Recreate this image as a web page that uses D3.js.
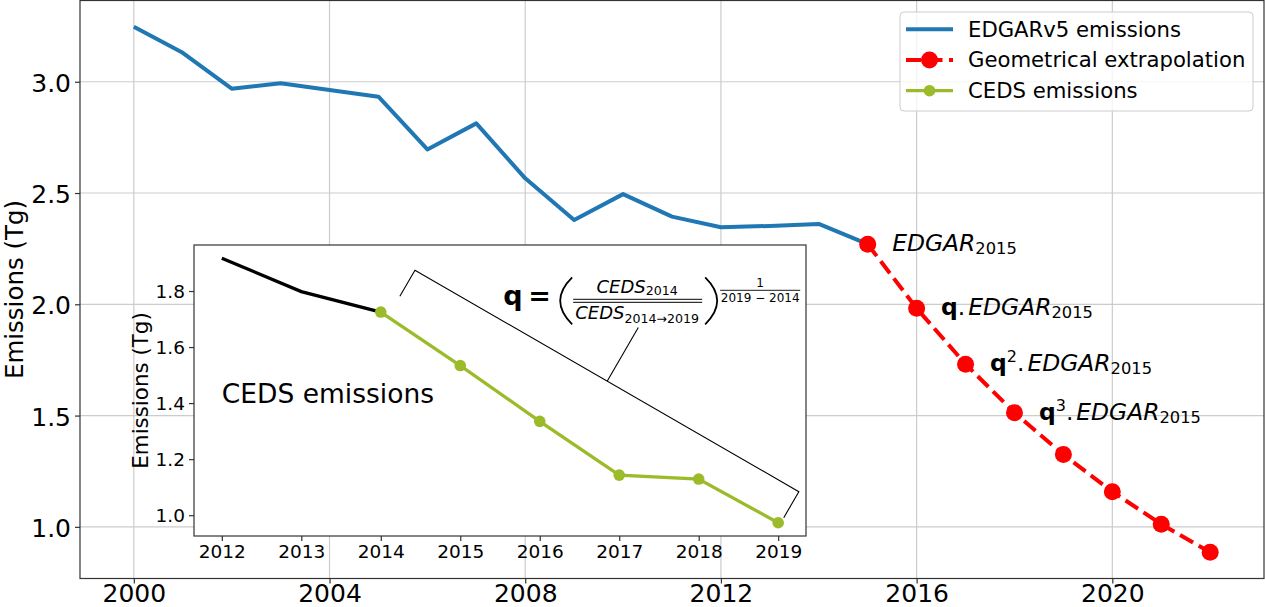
<!DOCTYPE html>
<meta charset="utf-8">
<script src="https://d3js.org/d3.v7.min.js"></script>
<style>
body {
    margin: 0;
    background: #fff;
}
text {
    font-family: 'DejaVu Sans', sans-serif;
    fill: #000;
}
</style>
<body>
<div id="chart"></div>
<script>
// main chart data: EDGARv5 and geometrical extrapolation (Tg)
var edgarYears = [2000, 2001, 2002, 2003, 2004, 2005, 2006, 2007, 2008, 2009, 2010, 2011, 2012, 2013, 2014, 2015];
var edgarValues = [3.247, 3.130, 2.969, 2.993, 2.963, 2.933, 2.696, 2.813, 2.566, 2.379, 2.495, 2.394, 2.346, 2.352, 2.361, 2.270];
var extrapYears = [2015, 2016, 2017, 2018, 2019, 2020, 2021, 2022];
var extrapValues = [2.270, 1.982, 1.731, 1.513, 1.325, 1.158, 1.012, 0.886];

// inset data: CEDS emissions (Tg), black up to 2014, green after
var cedsYears = [2012, 2013, 2014, 2015, 2016, 2017, 2018, 2019];
var cedsValues = [1.917, 1.798, 1.725, 1.534, 1.335, 1.143, 1.129, 0.973];
var cedsSplitYear = 2014;

// ticks
var mainXTicks = [2000, 2004, 2008, 2012, 2016, 2020];
var mainYTicks = [1.0, 1.5, 2.0, 2.5, 3.0];
var insetXTicks = [2012, 2013, 2014, 2015, 2016, 2017, 2018, 2019];
var insetYTicks = [1.0, 1.2, 1.4, 1.6, 1.8];

// labels next to the extrapolated points
var labelYears = [2015, 2016, 2017, 2018];
var labelPowers = [0, 1, 2, 3];

var legendNames = ['EDGARv5 emissions', 'Geometrical extrapolation', 'CEDS emissions'];

// bracket annotation in the inset (inset data units)
var bracketX = [2014.24, 2014.43, 2019.26, 2019.07];
var bracketY = [1.781, 1.874, 1.084, 0.991];
var leaderX = [2016.85, 2017.24];
var leaderY = [1.479, 1.670];
var formulaAt = [2015.54, 1.749];

var blue = '#1f77b4', red = '#ff0000', green = '#9bbb2a';

var W = 1265, H = 607;
var svg = d3.select('#chart').append('svg')
    .attr('width', W)
    .attr('height', H);

// matplotlib style 5% margins
function padded(lo, hi) {
    var p = (hi - lo) * 0.05;
    return [lo - p, hi + p];
}

// ---------- main axes ----------
var main = {left: 80, right: 1264, top: 0.5, bottom: 578.5};
var allMain = edgarValues.concat(extrapValues);

var x = d3.scaleLinear()
    .domain(padded(d3.min(edgarYears.concat(extrapYears)), d3.max(edgarYears.concat(extrapYears))))
    .range([main.left, main.right]);
var y = d3.scaleLinear()
    .domain(padded(d3.min(allMain), d3.max(allMain)))
    .range([main.bottom, main.top]);

// grid
svg.append('g').selectAll('line')
    .data(mainXTicks).enter().append('line')
    .attr('x1', function(d) { return x(d); })
    .attr('x2', function(d) { return x(d); })
    .attr('y1', main.top).attr('y2', main.bottom)
    .attr('stroke', '#cccccc').attr('stroke-width', 1.2);
svg.append('g').selectAll('line')
    .data(mainYTicks).enter().append('line')
    .attr('y1', function(d) { return y(d); })
    .attr('y2', function(d) { return y(d); })
    .attr('x1', main.left).attr('x2', main.right)
    .attr('stroke', '#cccccc').attr('stroke-width', 1.2);

// axes
var xAxis = d3.axisBottom(x).tickValues(mainXTicks).tickFormat(d3.format('d')).tickSize(5).tickPadding(1);
var gx = svg.append('g')
    .attr('transform', 'translate(0,' + main.bottom + ')')
    .call(xAxis);
var yAxis = d3.axisLeft(y).tickValues(mainYTicks).tickFormat(d3.format('.1f')).tickSize(5).tickPadding(4);
var gy = svg.append('g')
    .attr('transform', 'translate(' + main.left + ',0)')
    .call(yAxis);
[gx, gy].forEach(function(g) {
    g.select('.domain').remove();
    g.selectAll('line').attr('stroke', '#333').attr('stroke-width', 1.2);
    g.selectAll('text').style('font-size', '25px').style('font-family', "'DejaVu Sans', sans-serif");
});
gy.selectAll('text').attr('dy', '0.38em');

// frame
svg.append('rect')
    .attr('x', main.left).attr('y', main.top)
    .attr('width', main.right - main.left)
    .attr('height', main.bottom - main.top)
    .attr('fill', 'none').attr('stroke', '#333').attr('stroke-width', 1.2);

svg.append('text')
    .text('Emissions (Tg)')
    .attr('transform', 'translate(22.5,' + (main.top + main.bottom) / 2 + ') rotate(-90)')
    .attr('text-anchor', 'middle')
    .style('font-size', '24.5px');

// lines
var mainLine = d3.line()
    .x(function(d) { return x(d[0]); })
    .y(function(d) { return y(d[1]); });

svg.append('path')
    .datum(d3.zip(edgarYears, edgarValues))
    .attr('d', mainLine)
    .attr('fill', 'none').attr('stroke', blue).attr('stroke-width', 4)
    .attr('stroke-linejoin', 'round');

svg.append('path')
    .datum(d3.zip(extrapYears, extrapValues))
    .attr('d', mainLine)
    .attr('fill', 'none').attr('stroke', red).attr('stroke-width', 4)
    .attr('stroke-dasharray', '15,6.5');

svg.append('g').selectAll('circle')
    .data(d3.zip(extrapYears, extrapValues)).enter().append('circle')
    .attr('cx', function(d) { return x(d[0]); })
    .attr('cy', function(d) { return y(d[1]); })
    .attr('r', 8.5)
    .attr('fill', red);

// q^n . EDGAR_2015 labels
labelYears.forEach(function(yr, i) {
    var p = labelPowers[i];
    var v = extrapValues[extrapYears.indexOf(yr)];
    var t = svg.append('text')
        .attr('x', x(yr + 0.5))
        .attr('y', y(v) + 7)
        .style('font-size', '23.4px');
    if (p > 0) {
        t.append('tspan').text('q').style('font-weight', 'bold');
        if (p > 1) {
            t.append('tspan').text(String(p)).style('font-size', '16px').attr('dy', -9);
            t.append('tspan').text('.').attr('dy', 9);
        } else {
            t.append('tspan').text('.');
        }
        t.append('tspan').text('EDGAR').style('font-style', 'italic').attr('dx', 3);
    } else {
        t.append('tspan').text('EDGAR').style('font-style', 'italic');
    }
    t.append('tspan').text('2015').style('font-size', '16.3px').attr('dy', 3);
});

// ---------- inset ----------
var inset = {left: 194, right: 806, top: 245, bottom: 536};
var xi = d3.scaleLinear()
    .domain(padded(d3.min(cedsYears), d3.max(cedsYears)))
    .range([inset.left, inset.right]);
var yi = d3.scaleLinear()
    .domain(padded(d3.min(cedsValues), d3.max(cedsValues)))
    .range([inset.bottom, inset.top]);

svg.append('rect')
    .attr('x', inset.left).attr('y', inset.top)
    .attr('width', inset.right - inset.left)
    .attr('height', inset.bottom - inset.top)
    .attr('fill', '#fff');

var gxi = svg.append('g')
    .attr('transform', 'translate(0,' + inset.bottom + ')')
    .call(d3.axisBottom(xi).tickValues(insetXTicks).tickFormat(d3.format('d')).tickSize(5).tickPadding(4));
var gyi = svg.append('g')
    .attr('transform', 'translate(' + inset.left + ',0)')
    .call(d3.axisLeft(yi).tickValues(insetYTicks).tickFormat(d3.format('.1f')).tickSize(5).tickPadding(4));
[gxi, gyi].forEach(function(g) {
    g.select('.domain').remove();
    g.selectAll('line').attr('stroke', '#333').attr('stroke-width', 1.2);
    g.selectAll('text').style('font-size', '18.5px').style('font-family', "'DejaVu Sans', sans-serif");
});
gyi.selectAll('text').attr('dy', '0.36em');

svg.append('rect')
    .attr('x', inset.left).attr('y', inset.top)
    .attr('width', inset.right - inset.left)
    .attr('height', inset.bottom - inset.top)
    .attr('fill', 'none').attr('stroke', '#333').attr('stroke-width', 1.2);

svg.append('text')
    .text('Emissions (Tg)')
    .attr('transform', 'translate(148,' + (inset.top + inset.bottom) / 2 + ') rotate(-90)')
    .attr('text-anchor', 'middle')
    .style('font-size', '21.4px');

var insetLine = d3.line()
    .x(function(d) { return xi(d[0]); })
    .y(function(d) { return yi(d[1]); });
var ceds = d3.zip(cedsYears, cedsValues);
var cedsBefore = ceds.filter(function(d) { return d[0] <= cedsSplitYear; });
var cedsAfter = ceds.filter(function(d) { return d[0] >= cedsSplitYear; });

svg.append('path')
    .datum(cedsBefore)
    .attr('d', insetLine)
    .attr('fill', 'none').attr('stroke', '#000').attr('stroke-width', 3.3);
svg.append('path')
    .datum(cedsAfter)
    .attr('d', insetLine)
    .attr('fill', 'none').attr('stroke', green).attr('stroke-width', 3.3);
svg.append('g').selectAll('circle')
    .data(cedsAfter).enter().append('circle')
    .attr('cx', function(d) { return xi(d[0]); })
    .attr('cy', function(d) { return yi(d[1]); })
    .attr('r', 5.8)
    .attr('fill', green);

svg.append('text')
    .text('CEDS emissions')
    .attr('x', xi(2012))
    .attr('y', yi(1.4))
    .style('font-size', '26.5px');

// bracket + leader
svg.append('path')
    .datum(d3.zip(bracketX, bracketY))
    .attr('d', insetLine)
    .attr('fill', 'none').attr('stroke', '#000').attr('stroke-width', 1.1);
svg.append('path')
    .datum(d3.zip(leaderX, leaderY))
    .attr('d', insetLine)
    .attr('fill', 'none').attr('stroke', '#000').attr('stroke-width', 1.1);

// formula q = (CEDS2014 / CEDS2014->2019)^(1/(2019-2014))
var f = svg.append('g')
    .attr('transform', 'translate(' + xi(formulaAt[0]) + ',' + yi(formulaAt[1]) + ')');
f.append('text').text('q').style('font-size', '27px').style('font-weight', 'bold');
f.append('text').text('=').attr('x', 25).style('font-size', '27px').style('font-weight', 'bold');
f.append('path').attr('d', 'M69,-28 Q45,-4.5 69,19')
    .attr('fill', 'none').attr('stroke', '#000').attr('stroke-width', 1.8);
f.append('path').attr('d', 'M202,-28 Q226,-4.5 202,19')
    .attr('fill', 'none').attr('stroke', '#000').attr('stroke-width', 1.8);
var num = f.append('text').attr('x', 134).attr('y', -12).attr('text-anchor', 'middle');
num.append('tspan').text('CEDS').style('font-style', 'italic').style('font-size', '18px');
num.append('tspan').text('2014').style('font-size', '12.6px').attr('dy', 2);
f.append('line').attr('x1', 70).attr('x2', 199).attr('y1', -6).attr('y2', -6)
    .attr('stroke', '#000').attr('stroke-width', 1);
f.append('line').attr('x1', 70).attr('x2', 199).attr('y1', -3).attr('y2', -3)
    .attr('stroke', '#000').attr('stroke-width', 1);
var den = f.append('text').attr('x', 134).attr('y', 14).attr('text-anchor', 'middle');
den.append('tspan').text('CEDS').style('font-style', 'italic').style('font-size', '18px');
den.append('tspan').text('2014\u21922019').style('font-size', '12.6px').attr('dy', 4);
f.append('text').text('1').attr('x', 257).attr('y', -18)
    .attr('text-anchor', 'middle').style('font-size', '12px');
f.append('line').attr('x1', 217).attr('x2', 297).attr('y1', -15).attr('y2', -15)
    .attr('stroke', '#000').attr('stroke-width', 0.9);
f.append('text').text('2019 \u2212 2014').attr('x', 257).attr('y', -3)
    .attr('text-anchor', 'middle').style('font-size', '12px');

// ---------- legend ----------
var legend = svg.append('g');
legend.append('rect')
    .attr('x', 900).attr('y', 12)
    .attr('width', 353).attr('height', 99)
    .attr('rx', 4)
    .attr('fill', '#fff').attr('fill-opacity', 0.8)
    .attr('stroke', '#cccccc').attr('stroke-width', 1);
var legendColor = [blue, red, green];
var legendRows = legend.selectAll('.row')
    .data(legendNames).enter().append('g')
    .attr('class', 'row')
    .attr('transform', function(d, i) { return 'translate(906,' + (29.3 + i * 30.7) + ')'; });
legendRows.append('line')
    .attr('x1', 0).attr('x2', 47)
    .attr('stroke', function(d, i) { return legendColor[i]; })
    .attr('stroke-width', function(d, i) { return i == 2 ? 3.3 : 4; })
    .attr('stroke-dasharray', function(d, i) { return i == 1 ? '15,6.5' : null; });
legendRows.filter(function(d, i) { return i > 0; })
    .append('circle')
    .attr('cx', 23.5)
    .attr('r', function(d) { return d == legendNames[1] ? 8.5 : 5.8; })
    .attr('fill', function(d) { return d == legendNames[1] ? red : green; });
legendRows.append('text')
    .text(function(d) { return d; })
    .attr('x', 62)
    .attr('dy', '0.35em')
    .style('font-size', '21.2px');
</script>
</body>
</html>
